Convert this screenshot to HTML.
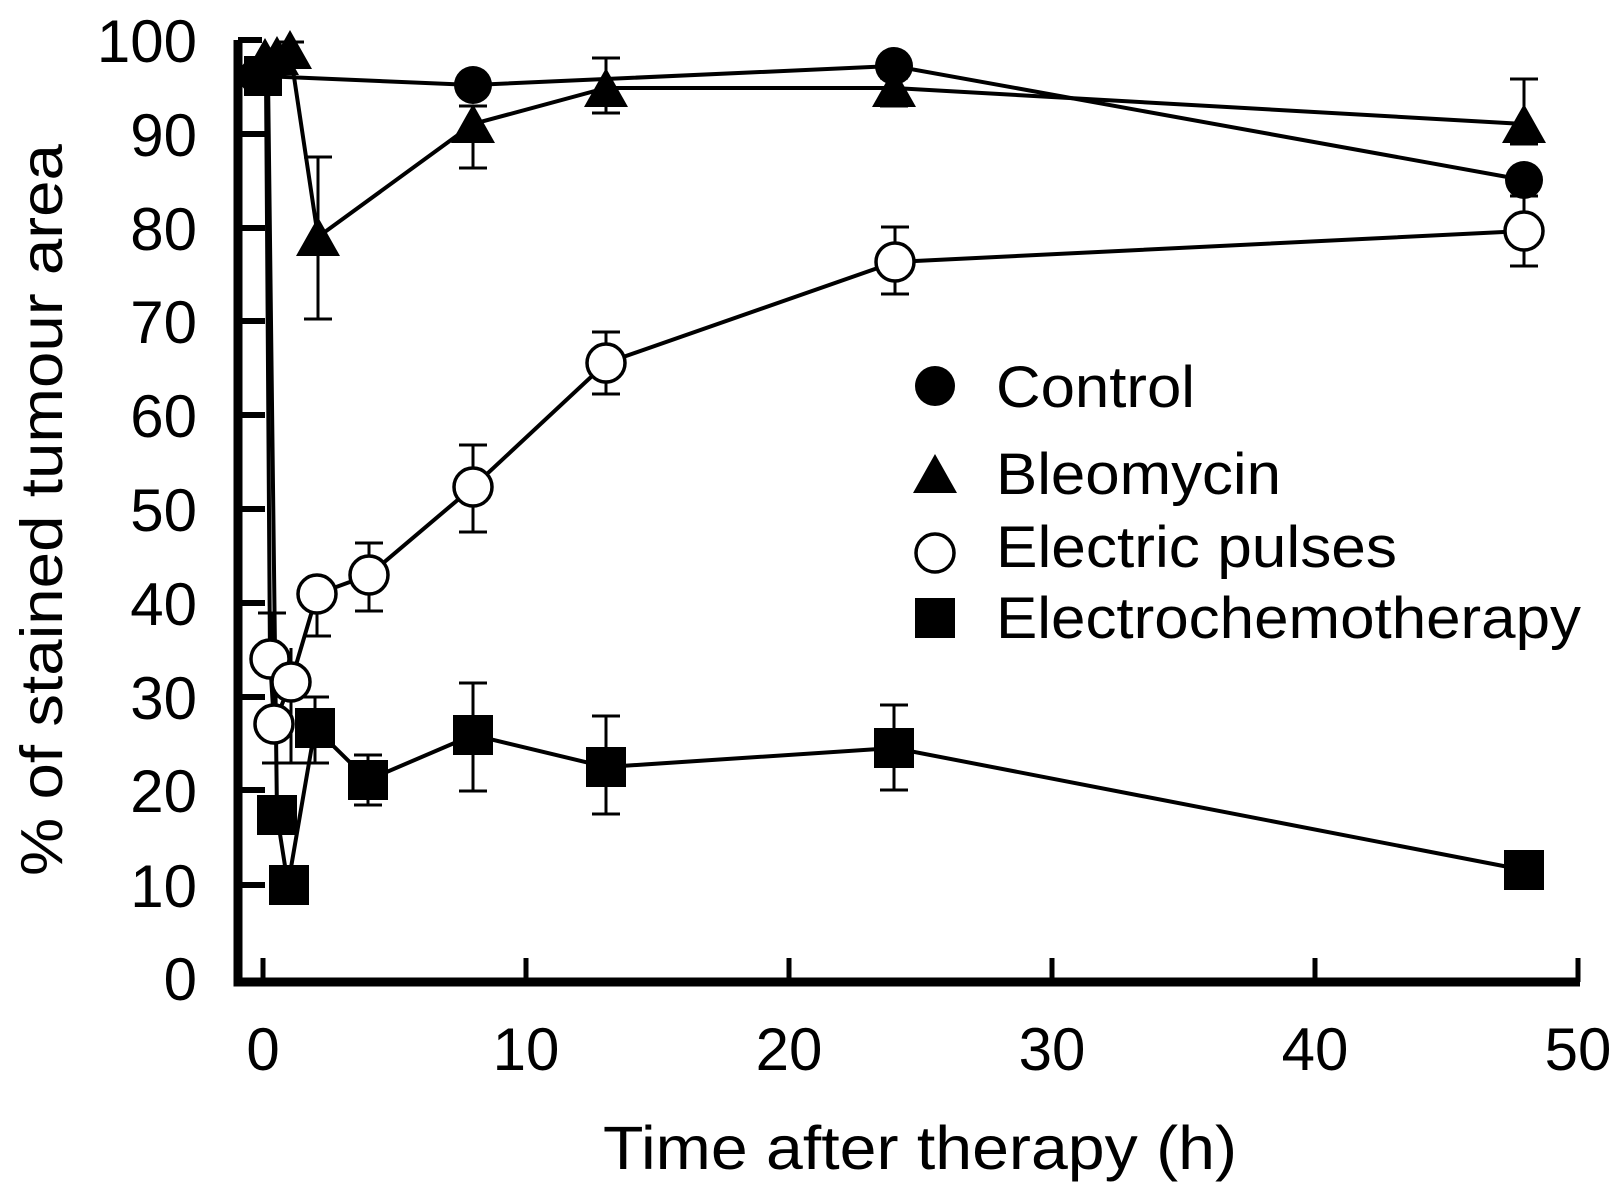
<!DOCTYPE html>
<html><head><style>
html,body{margin:0;padding:0;background:#fff;}
svg{display:block;font-family:"Liberation Sans",Arial,sans-serif;}
</style></head><body>
<svg width="1615" height="1184" viewBox="0 0 1615 1184" xmlns="http://www.w3.org/2000/svg">
<defs>
<symbol id="tri" viewBox="-22 -22 44 44" overflow="visible"><polygon points="0,-22 22,17 -22,17" fill="#000"/></symbol>
</defs>
<g stroke="#000" fill="none" stroke-width="4">
<polyline points="238,40 238,982 1580,982" stroke-width="9"/>
<line x1="238" y1="40" x2="262" y2="40" stroke-width="6"/>
<g stroke-width="6">
<line x1="238" y1="134" x2="265" y2="134"/>
<line x1="238" y1="228" x2="265" y2="228"/>
<line x1="238" y1="321" x2="265" y2="321"/>
<line x1="238" y1="415" x2="265" y2="415"/>
<line x1="238" y1="509" x2="265" y2="509"/>
<line x1="238" y1="603" x2="265" y2="603"/>
<line x1="238" y1="697" x2="265" y2="697"/>
<line x1="238" y1="790" x2="265" y2="790"/>
<line x1="238" y1="885" x2="265" y2="885"/>
</g>
<g stroke-width="5">
<line x1="263" y1="958" x2="263" y2="982"/>
<line x1="526" y1="958" x2="526" y2="982"/>
<line x1="789" y1="958" x2="789" y2="982"/>
<line x1="1052" y1="958" x2="1052" y2="982"/>
<line x1="1315" y1="958" x2="1315" y2="982"/>
<line x1="1578" y1="958" x2="1578" y2="982"/>
</g>
<g stroke-width="3">
<path d="M290,42V60M276,42H304"/>
<path d="M318,157V319M304,157H332M304,319H332"/>
<path d="M473,106V168M459,106H487M459,168H487"/>
<path d="M606,58V113M592,58H620M592,113H620"/>
<path d="M894,78V106M880,78H908M880,106H908"/>
<path d="M1524,79V144M1510,79H1538M1510,144H1538"/>
<path d="M272,613V700M258,613H286"/>
<path d="M276,700V763M262,763H290"/>
<path d="M291,648V763M277,763H305"/>
<path d="M317,580V636M303,580H331M303,636H331"/>
<path d="M369,543V611M355,543H383M355,611H383"/>
<path d="M473,445V532M459,445H487M459,532H487"/>
<path d="M606,332V394M592,332H620M592,394H620"/>
<path d="M895,227V294M881,227H909M881,294H909"/>
<path d="M1524,196V266M1510,196H1538M1510,266H1538"/>
<path d="M315,697V763M301,697H329M301,763H329"/>
<path d="M368,755V805M354,755H382M354,805H382"/>
<path d="M473,683V791M459,683H487M459,791H487"/>
<path d="M606,716V814M592,716H620M592,814H620"/>
<path d="M894,705V790M880,705H908M880,790H908"/>
</g>
<polyline points="262,76 473,85 894,66 1524,180"/>
<polyline points="262,70 277,55 290,50 318,237 473,124 606,88 894,88 1524,124"/>
<polyline points="266,76 270,659 274,724 291,682 317,594 369,575 473,487 606,363 895,262 1524,231"/>
<polyline points="268,76 277,815 288,885 315,728 368,780 473,735 606,767 894,748 1524,870"/>
</g>
<g fill="#000">
<rect x="244" y="56" width="38" height="40"/>
<circle cx="258" cy="76" r="19"/>
<circle cx="473" cy="85" r="19"/>
<circle cx="894" cy="66" r="19"/>
<circle cx="1524" cy="180" r="19"/>
<use href="#tri" x="243" y="38" width="44" height="44"/>
<use href="#tri" x="255" y="36" width="44" height="44"/>
<use href="#tri" x="268" y="30" width="44" height="44"/>
<use href="#tri" x="296" y="217" width="44" height="44"/>
<use href="#tri" x="451" y="104" width="44" height="44"/>
<use href="#tri" x="584" y="68" width="44" height="44"/>
<use href="#tri" x="872" y="68" width="44" height="44"/>
<use href="#tri" x="1502" y="104" width="44" height="44"/>
</g>
<g fill="#fff" stroke="#000" stroke-width="3.5">
<circle cx="270" cy="659" r="19"/>
<circle cx="274" cy="724" r="19"/>
<circle cx="291" cy="682" r="19"/>
<circle cx="317" cy="594" r="19"/>
<circle cx="369" cy="575" r="19"/>
<circle cx="473" cy="487" r="19"/>
<circle cx="606" cy="363" r="19"/>
<circle cx="895" cy="262" r="19"/>
<circle cx="1524" cy="231" r="19"/>
</g>
<g fill="#000">
<rect x="257" y="795" width="40" height="40"/>
<rect x="269" y="865" width="40" height="40"/>
<rect x="295" y="708" width="40" height="40"/>
<rect x="348" y="760" width="40" height="40"/>
<rect x="453" y="715" width="40" height="40"/>
<rect x="586" y="747" width="40" height="40"/>
<rect x="874" y="728" width="40" height="40"/>
<rect x="1504" y="850" width="40" height="40"/>
</g>
<circle cx="935" cy="386" r="20" fill="#000"/>
<use href="#tri" x="913" y="454" width="44" height="44"/>
<circle cx="935" cy="553" r="19" fill="#fff" stroke="#000" stroke-width="3.5"/>
<rect x="915" y="598" width="40" height="40" fill="#000"/>
<g font-size="58" fill="#000">
<text x="996" y="407" textLength="199" lengthAdjust="spacingAndGlyphs">Control</text>
<text x="996" y="494" textLength="285" lengthAdjust="spacingAndGlyphs">Bleomycin</text>
<text x="996" y="567" textLength="401" lengthAdjust="spacingAndGlyphs">Electric pulses</text>
<text x="996" y="638" textLength="585" lengthAdjust="spacingAndGlyphs">Electrochemotherapy</text>
</g>
<g font-size="60" fill="#000" text-anchor="end">
<text x="197" y="62">100</text>
<text x="197" y="156">90</text>
<text x="197" y="250">80</text>
<text x="197" y="343">70</text>
<text x="197" y="437">60</text>
<text x="197" y="531">50</text>
<text x="197" y="625">40</text>
<text x="197" y="719">30</text>
<text x="197" y="812">20</text>
<text x="197" y="907">10</text>
<text x="197" y="1000">0</text>
</g>
<g font-size="60" fill="#000" text-anchor="middle">
<text x="263" y="1070">0</text>
<text x="526" y="1070">10</text>
<text x="789" y="1070">20</text>
<text x="1052" y="1070">30</text>
<text x="1315" y="1070">40</text>
<text x="1578" y="1070">50</text>
</g>
<text x="603" y="1169" font-size="61" fill="#000" textLength="634" lengthAdjust="spacingAndGlyphs">Time after therapy (h)</text>
<text transform="translate(62,876) rotate(-90)" font-size="59" fill="#000" textLength="732" lengthAdjust="spacingAndGlyphs">% of stained tumour area</text>
</svg>
</body></html>
